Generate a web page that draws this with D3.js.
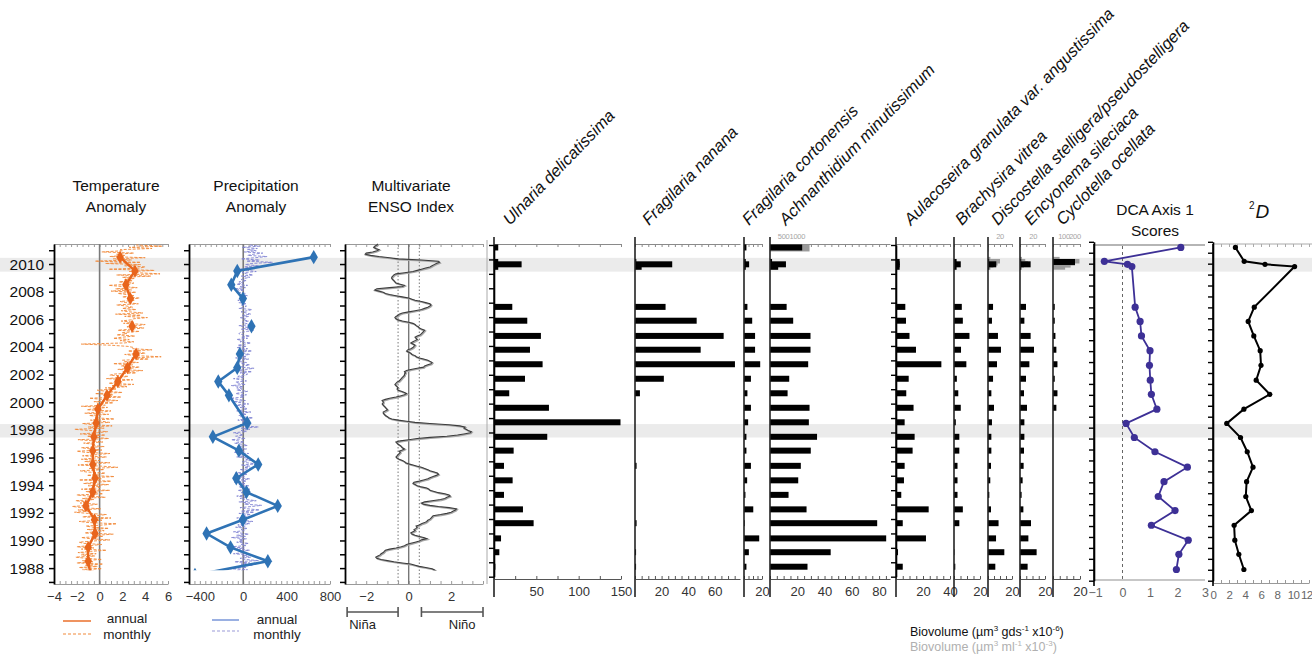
<!DOCTYPE html>
<html><head><meta charset="utf-8">
<script src="https://cdn.jsdelivr.net/npm/d3@7"></script>
<style>
body{margin:0;background:#fff}
text{font-family:"Liberation Sans",Arial,sans-serif}
</style>
</head><body>
<svg id="c" width="1312" height="655"></svg>
<script>
// ---------------- data ----------------
const yearLabels = d3.range(1988, 2011, 2);
const highlightYears = [[2009.45, 2010.45], [1997.45, 1998.42]];

// annual climate anomalies (mid-year)
const tempYears = [2010.5, 2009.5, 2008.5, 2007.5, 2006.5, 2005.5, 2004.5, 2003.5, 2002.5, 2001.5, 2000.5, 1999.5, 1998.5, 1997.5, 1996.5, 1995.5, 1994.5, 1993.5, 1992.5, 1991.5, 1990.5, 1989.5, 1988.5, 1987.5];
const tempAnnual = [1.8, 3.1, 2.3, 2.7, null, 2.85, null, 3.2, 2.45, 1.6, 0.65, -0.15, -0.3, -0.5, -0.6, -0.6, -0.4, -0.6, -1.2, -0.45, -0.4, -1.0, -1.0, -0.8];
const precipYears = [2010.5, 2009.5, 2008.5, 2007.5, 2006.5, 2005.5, 2004.5, 2003.5, 2002.5, 2001.5, 2000.5, 1998.5, 1997.5, 1996.5, 1995.5, 1994.5, 1993.5, 1992.5, 1991.5, 1990.5, 1989.5, 1988.5, 1987.5];
const precipAnnual = [650, -55, -110, -3, null, 76, null, -31, -55, -230, -132, 37, -280, -40, 138, -64, 30, 318, -3, -338, -117, 227, -445];

// monthly series, first value = October 1987
const monthlyStart = 1987.75;
const tempMonthly = [
 -0.5, -1.5, 0.2,
 -1.8, -0.2, -1.3, 0.3, -2.0, -0.6, -1.5, 0.2, -1.2, -2.1, -0.4, -1.6,
 -0.3, -1.9, -0.8, 0.6, -1.6, -0.5, -2.0, -0.9, 0.2, -1.4, -1.8, -0.6,
 0.9, -0.8, -1.6, 0.3, -0.2, 1.2, -1.3, -0.5, 0.4, -1.1, 0.8, -0.6,
 -1.2, 0.4, 1.5, -0.9, -1.8, 0.2, -0.6, 1.0, -1.5, -0.3, 0.6, -1.0,
 -2.2, -0.8, -1.9, 0.1, -1.5, -2.4, -0.9, -0.2, -1.7, -1.0, -2.1, -0.5,
 -1.5, 0.5, -0.9, -2.0, 0.3, -0.4, -1.2, 0.9, -1.6, -0.2, 0.1, -1.0,
 0.8, -1.4, -0.3, 1.0, -1.8, 0.2, -0.6, 1.3, -1.1, -0.2, 0.5, -1.2,
 -1.7, 0.4, -0.9, 1.6, 0.2, -1.9, -0.4, 0.9, -1.3, 0.0, -1.6, -0.5,
 0.6, -1.5, -0.3, 0.9, -1.2, -2.0, 0.2, -0.8, -1.6, 0.4, -0.7, -0.4,
 -1.4, 0.3, -0.6, -1.9, 0.8, -0.3, -1.1, 0.5, -1.7, -0.2, 0.7, -0.9,
 -2.2, 0.4, -1.0, 1.1, -0.6, -1.5, 0.9, 0.2, -0.8, 1.3, -0.4, 0.1,
 -0.9, 0.8, -1.3, 0.3, 1.0, -1.1, -0.4, 0.7, -1.6, 0.5, -0.2, 1.2,
 -0.5, 1.6, 0.2, -0.9, 1.9, 0.4, 1.2, -0.4, 2.0, 0.6, -0.2, 1.5,
 0.5, 2.4, 1.1, 3.0, 0.8, 2.0, 1.4, 2.9, 0.6, 1.8, 2.5, 0.9,
 1.3, 3.2, 2.0, 3.8, 1.6, 2.7, 3.5, 1.9, 2.9, 1.2, 3.4, 2.2,
 2.0, 4.3, 2.8, 5.4, 3.1, 2.2, 4.0, 3.6, 2.5, 4.6, 2.9, 3.0,
 2.5, 1.0, -1.6, 2.2, 3.0, 1.8, 2.6, 1.2, 2.0, 3.1, 1.5, 2.4,
 2.0, 3.5, 1.6, 2.8, 3.9, 2.4, 3.3, 4.0, 2.1, 3.0, 1.9, 2.7,
 3.0, 4.2, 2.2, 3.6, 1.4, 3.8, 2.6, 1.9, 3.2, 2.0, 2.9, 2.4,
 1.5, 3.4, 2.3, 1.8, 3.1, 2.7, 3.5, 2.0, 3.0, 2.4, 1.6, 3.2,
 1.0, 2.8, 1.4, 3.3, 2.0, 0.8, 2.6, 3.0, 1.7, 2.9, 2.2, 3.1,
 2.0, 4.5, 1.5, 5.3, 3.2, 2.6, 4.8, 0.8, 3.5, 4.0, 2.2, 3.6,
 0.5, 3.6, -0.4, 2.8, 1.2, 4.0, 0.9, 2.2, 1.5, 3.0, 0.2, 2.0,
 1.8, 4.6, 2.6, 5.5, 3.2
];
const precipMonthly = [
 -60, 40, -120,
 30, -40, 90, -20, 60, -80, 140, 20, -30, 70, -10, 50,
 -90, 20, -40, 60, -70, 10, -120, 30, -20, 50, -60, 0,
 -40, 30, -110, 20, -60, 50, -30, -90, 10, -20, 40, -70,
 20, -50, 60, -30, 90, -10, 40, -60, 30, -20, 70, -40,
 100, -20, 150, 40, -30, 80, 170, 10, 60, -40, 120, 30,
 -30, 40, -60, 20, 70, -20, 30, -50, 60, 0, -40, 50,
 -40, 20, -80, 30, -20, 60, -50, 10, -30, 40, -70, 20,
 40, -30, 90, 10, 60, -20, 120, 30, -10, 70, 20, 50,
 -60, 20, -30, 50, -80, 10, -40, 30, -20, -50, 40, -10,
 -80, 10, -50, -110, 20, -40, -70, 0, -30, -90, 30, -20,
 60, -20, 140, 10, -30, 80, -10, 40, -50, 20, 90, -30,
 -40, 30, -20, 70, -60, 10, 40, -30, 20, -80, 50, -10,
 -90, 20, -50, -120, 10, -30, 30, -70, -20, 40, -60, -10,
 -60, 0, -110, 20, -40, -70, 30, -20, -90, 10, -50, 20,
 40, -30, 80, -60, 20, 100, -40, 10, 60, -20, 30, -50,
 -20, 50, -70, 30, -40, 60, 10, -30, 80, -10, 40, -60,
 30, -50, 20, 70, -30, 10, -60, 40, -20, 60, 0, -40,
 -30, 40, 100, -20, 60, 10, -40, 80, 20, -10, 50, 0,
 20, -30, 50, -10, 70, 30, -20, 40, 80, -40, 10, 30,
 -20, 30, -40, 10, -50, 20, 0, -30, 40, -10, 20, -60,
 -50, 10, -80, 20, -30, 40, -60, 0, -40, 30, -20, 10,
 60, -20, 90, 30, -10, 120, 40, -30, 70, 10, 140, 20,
 80, 270, 30, 150, -20, 110, 220, 40, 90, 180, 10, 120,
 40, 130, -10, 150, 60
];
const ensoMonthly = [
 1.3, 1.2, 1.1,
 0.8, 0.5, 0.3, 0.1, -0.3, -0.7, -1.0, -1.3, -1.5, -1.55, -1.45, -1.35,
 -1.3, -1.2, -1.15, -1.1, -0.9, -0.6, -0.35, -0.2, -0.1, 0.1, 0.3, 0.5,
 0.6, 0.85, 0.7, 0.5, 0.3, 0.15, 0.1, 0.2, 0.3, 0.25, 0.35, 0.4,
 0.35, 0.5, 0.6, 0.75, 0.85, 0.9, 1.0, 1.05, 1.1, 1.15, 1.5, 1.8,
 2.0, 2.1, 2.2, 2.25, 1.9, 1.4, 1.0, 0.7, 0.6, 0.75, 1.1, 1.5,
 1.7, 1.8, 1.95, 1.9, 1.7, 1.4, 1.2, 1.0, 0.95, 0.85, 0.6, 0.4,
 0.3, 0.2, 0.25, 0.5, 0.7, 0.9, 1.0, 1.15, 1.3, 1.4, 1.35, 1.2,
 1.0, 0.9, 0.75, 0.6, 0.4, 0.2, 0.0, -0.15, -0.2, -0.3, -0.45, -0.55,
 -0.6, -0.55, -0.5, -0.45, -0.4, -0.45, -0.3, -0.2, -0.3, -0.35, -0.4, -0.5,
 -0.55, -0.6, -0.4, 0.0, 0.4, 1.0, 1.8, 2.3, 2.6, 2.9, 2.95, 2.8,
 2.7, 2.6, 2.65, 2.4, 1.9, 1.0, 0.3, -0.1, -0.5, -0.8, -0.95, -1.0,
 -1.1, -1.15, -1.2, -1.2, -1.1, -1.0, -1.05, -1.1, -1.15, -1.2, -1.25, -1.2,
 -1.2, -1.25, -1.1, -0.9, -0.6, -0.4, -0.2, -0.1, -0.2, -0.35, -0.5, -0.55,
 -0.5, -0.55, -0.6, -0.65, -0.6, -0.55, -0.45, -0.4, -0.35, -0.3, -0.25, -0.2,
 -0.2, -0.15, -0.2, -0.1, 0.1, 0.4, 0.7, 0.75, 0.9, 1.05, 1.1, 1.0,
 0.9, 0.7, 0.5, 0.35, 0.3, 0.15, 0.1, 0.0, -0.1, -0.05, 0.1, 0.2,
 0.25, 0.3, 0.2, 0.1, 0.2, 0.3, 0.4, 0.35, 0.3, 0.4, 0.55, 0.6,
 0.65, 0.7, 0.75, 0.6, 0.5, 0.45, 0.35, 0.3, 0.2, 0.0, -0.3, -0.5,
 -0.6, -0.65, -0.6, -0.5, -0.45, -0.3, 0.0, 0.3, 0.6, 0.75, 0.9, 1.0,
 1.05, 1.0, 0.8, 0.6, 0.3, 0.15, 0.0, -0.3, -0.6, -0.9, -1.1, -1.2,
 -1.4, -1.6, -1.5, -0.9, -0.3, -0.2, -0.4, -0.6, -0.65, -0.7, -0.75, -0.8,
 -0.8, -0.75, -0.7, -0.6, -0.2, 0.2, 0.4, 0.6, 0.8, 1.0, 1.1, 1.2,
 1.3, 1.45, 1.4, 0.6, -0.5, -0.9, -1.4, -1.8, -2.05, -2.0, -1.7, -1.5,
 -1.4, -1.55, -1.65, -1.6, -1.5, -1.45
];

// diatom biovolume per sediment sample (µm³ gds⁻¹ ×10⁻⁶)
const sampleYears = [2011.2, 2010.15, 2009.98, 2009.8, 2006.9, 2005.9, 2004.8, 2003.8, 2002.75, 2001.7, 2000.65, 1999.6, 1998.55, 1997.5, 1996.5, 1995.4, 1994.35, 1993.3, 1992.25, 1991.25, 1990.15, 1989.15, 1988.1];
const ulnaria      = [5, 5, 32.6, 5, 21.6, 39.3, 55.4, 42.5, 57.4, 36.6, 18, 64.9, 149.4, 62.9, 23.2, 11.8, 22, 11.8, 34.2, 46.8, 8.3, 6.3, 1.6];
const nanana       = [0, 1, 28, 5, 23, 46.4, 66.7, 49.4, 75.2, 21.7, 3.7, 0, 0, 0, 0, 1.2, 0, 0, 0, 1.2, 0, 0.8, 0.8];
const cortonensis  = [2.7, 2, 5.7, 2, 3.8, 9.1, 12.3, 12.3, 18, 7.7, 3.8, 7.7, 4.6, 2.7, 2.7, 7.7, 3.5, 1.6, 10.3, 0.8, 16.9, 5.4, 2.7];
const achnanthidium= [23.6, 1.5, 11.7, 6, 12.2, 17, 29.7, 29.7, 28, 14.1, 12.9, 29, 28.5, 34.5, 29.9, 22.6, 20.7, 13.6, 26.8, 78.6, 85.2, 44.5, 27.5];
const aulacoseira  = [0, 2.7, 2.7, 2.7, 6.9, 7.4, 10, 14.8, 33.6, 9.4, 7.6, 13, 6.4, 13.8, 12.3, 6.4, 5.9, 3.9, 24.2, 5, 22.2, 1.5, 5];
const brachysira   = [0, 2, 5.2, 2, 6, 6.8, 11.9, 5.4, 9.5, 2.2, 3.3, 5.2, 1.4, 4.1, 4.1, 2.7, 2.7, 2.7, 6.8, 4.1, 0, 0.3, 1];
const discostella  = [0, 1, 6.9, 1, 4.2, 3.3, 8.3, 10.8, 7.5, 4.2, 2.8, 5, 3.3, 2.8, 2.8, 2.5, 1.9, 1.1, 2.5, 8.8, 6.7, 13.6, 6.1];
const encyonema    = [0, 1, 8.5, 1, 4.8, 3.5, 8.5, 11.2, 7.5, 4.8, 3.2, 5.6, 3.5, 3.5, 3.2, 2.9, 2.1, 1.3, 2.7, 8.8, 6.7, 13.3, 6.1];
const cyclotella   = [0, 16.3, 0, 0, 1.3, 1.3, 1.8, 2.5, 3.3, 1.3, 3.3, 2.5, 0, 0, 0, 0, 0, 0, 0, 0, 0, 0, 0];

// water-column biovolume (µm³ ml⁻¹ ×10⁻³)
const waterYears = [2011.2, 2010.3, 2010.15, 2010.0, 2009.85, 2009.7];
const achnWater  = [1450, 0, 0, 0, 0, 0];
const discWater  = [1, 4, 20, 16, 9, 4];
const encyWater  = [0, 3, 8, 12, 6, 2];
const cycloWater = [0, 60, 240, 200, 160, 110];

// community metrics
const scoreYears = [2011.2, 2010.2, 2009.98, 2009.82, 2006.88, 2005.85, 2004.8, 2003.73, 2002.67, 2001.6, 2000.57, 1999.5, 1998.47, 1997.45, 1996.42, 1995.3, 1994.25, 1993.18, 1992.16, 1991.1, 1990.02, 1989.0, 1987.9];
const dcaScores = [2.12, -0.66, 0.18, 0.34, 0.46, 0.64, 0.69, 1.0, 0.98, 1.01, 1.05, 1.25, 0.13, 0.43, 1.18, 2.36, 1.51, 1.3, 1.91, 1.05, 2.39, 2.05, 1.96];
const hill2 = [2.8, 3.9, 6.5, 10.2, 5.16, 4.4, 5.1, 5.9, 6.0, 5.4, 7.1, 3.86, 1.72, 3.44, 4.28, 5.0, 4.2, 4.1, 4.8, 2.64, 2.73, 3.23, 3.86];

const taxa = ["Ulnaria delicatissima", "Fragilaria nanana", "Fragilaria cortonensis", "Achnanthidium minutissimum",
  "Aulacoseira granulata var. angustissima", "Brachysira vitrea", "Discostella stelligera/pseudostelligera",
  "Encyonema sileciaca", "Cyclotella ocellata"];

// ---------------- drawing ----------------
const svg = d3.select("#c");
const y = d3.scaleLinear().domain([1986.85, 2011.45]).range([584, 244]);
const GRAY_AX = "#9a9a9a";

// highlighted years
svg.append("g").selectAll("rect").data(highlightYears).join("rect")
  .attr("x", 0).attr("width", 1312)
  .attr("y", d => y(d[1])).attr("height", d => y(d[0]) - y(d[1]))
  .attr("fill", "#ebebeb");

function vline(x, y1, y2, color, w, dash) {
  const l = svg.append("line").attr("x1", x).attr("x2", x).attr("y1", y1).attr("y2", y2)
    .attr("stroke", color).attr("stroke-width", w);
  if (dash) l.attr("stroke-dasharray", dash);
  return l;
}
function styleAxis(g, color, fs) {
  g.select(".domain").attr("stroke", color);
  g.selectAll(".tick line").attr("stroke", color);
  g.selectAll(".tick text").attr("fill", "#333").style("font-size", fs + "px")
    .style("font-family", '"Liberation Sans",Arial,sans-serif');
  return g;
}
function topAxis(x, y0, step, color) {
  const [a, b] = x.domain();
  const g = svg.append("g").attr("transform", `translate(0,${y0})`)
    .call(d3.axisTop(x).tickValues(d3.range(a, b + 1e-9, step)).tickSize(-3).tickSizeOuter(0).tickFormat(""));
  return styleAxis(g, color || GRAY_AX, 12);
}
function bottomAxis(x, y0, step, labels, color) {
  const [a, b] = x.domain();
  const g = svg.append("g").attr("transform", `translate(0,${y0})`)
    .call(d3.axisBottom(x).tickValues(d3.range(a, b + 1e-9, step)).tickSize(-3).tickSizeOuter(0).tickFormat(""));
  styleAxis(g, color || GRAY_AX, 12);
  const gl = svg.append("g").attr("transform", `translate(0,${y0})`)
    .call(d3.axisBottom(x).tickValues(labels).tickSize(0).tickPadding(8).tickFormat(d3.format("d")));
  gl.select(".domain").remove();
  styleAxis(gl, color || GRAY_AX, 13);
  return g;
}
function yearAxis(x0, withLabels) {
  const g = svg.append("g").attr("transform", `translate(${x0},0)`)
    .call(d3.axisLeft(y).tickValues(d3.range(1987, 2012)).tickSize(5).tickSizeOuter(0)
      .tickFormat(d => (withLabels && d % 2 === 0) ? d : ""));
  g.select(".domain").attr("stroke", "#000").attr("stroke-width", 1.8);
  g.selectAll(".tick line").attr("stroke", "#000").attr("stroke-width", 1.5);
  g.selectAll(".tick text").attr("fill", "#111").style("font-size", "15.5px").attr("dx", "-2")
    .style("font-family", '"Liberation Sans",Arial,sans-serif');
  return g;
}
function depthAxis(x0, range, n) {
  const d = d3.scaleLinear().domain([0, n]).range(range);
  const g = svg.append("g").attr("transform", `translate(${x0},0)`)
    .call(d3.axisLeft(d).tickValues(d3.range(0, n + 1)).tickSize(5).tickSizeOuter(0).tickFormat(""));
  g.select(".domain").attr("stroke", "#000").attr("stroke-width", 1.6);
  g.selectAll(".tick line").attr("stroke", "#000").attr("stroke-width", 1.4);
}
function title(lines, cx, y0) {
  lines.forEach((t, i) => svg.append("text").attr("x", cx).attr("y", y0 + i * 21)
    .attr("text-anchor", "middle").style("font-size", "15.5px").attr("fill", "#111").text(t));
}

// clip for the climate records (record starts late 1987)
svg.append("clipPath").attr("id", "clim").append("rect")
  .attr("x", 0).attr("y", 236).attr("width", 1312).attr("height", y(1987.85) - 236);

const monthDate = i => monthlyStart + (i + 0.5) / 12;

// ---- Temperature anomaly ----
const xT = d3.scaleLinear().domain([-4, 6]).range([54, 168]);
topAxis(xT, 244, 0.5);
bottomAxis(xT, 584, 0.5, [-4, -2, 0, 2, 4, 6]);
vline(xT(0), 244, 584, "#7a7a7a", 1.6);
yearAxis(54, true);
title(["Temperature", "Anomaly"], 116, 191);
const tempC = "#e8651c", tempM = "#f28a3a";
svg.append("path").datum(tempMonthly).attr("clip-path", "url(#clim)")
  .attr("d", d3.line().x(d => xT(d)).y((d, i) => y(monthDate(i))))
  .attr("fill", "none").attr("stroke", tempM).attr("stroke-width", 1).attr("stroke-dasharray", "3,1.5").attr("opacity", 0.9);
const tempPts = tempYears.map((t, i) => ({ t, v: tempAnnual[i] }));
svg.append("path").datum(tempPts).attr("clip-path", "url(#clim)")
  .attr("d", d3.line().defined(d => d.v !== null).x(d => xT(d.v)).y(d => y(d.t)))
  .attr("fill", "none").attr("stroke", tempC).attr("stroke-width", 2.4);
svg.append("g").attr("clip-path", "url(#clim)").selectAll("path").data(tempPts.filter(d => d.v !== null)).join("path")
  .attr("transform", d => `translate(${xT(d.v)},${y(d.t)})`)
  .attr("d", d3.symbol(d3.symbolDiamond, 48)).attr("fill", tempC);

// ---- Precipitation anomaly ----
const xP = d3.scaleLinear().domain([-500, 800]).range([189, 330]);
topAxis(xP, 244, 50);
bottomAxis(xP, 584, 50, [-400, 0, 400, 800]);
vline(xP(0), 244, 584, "#7a7a7a", 1.6);
yearAxis(189, false);
title(["Precipitation", "Anomaly"], 256, 191);
const precC = "#2f73b5", precM = "#7f82d2";
svg.append("path").datum(precipMonthly).attr("clip-path", "url(#clim)")
  .attr("d", d3.line().x(d => xP(d)).y((d, i) => y(monthDate(i))))
  .attr("fill", "none").attr("stroke", precM).attr("stroke-width", 0.9).attr("stroke-dasharray", "3,1.5");
const precPts = precipYears.map((t, i) => ({ t, v: precipAnnual[i] }));
svg.append("path").datum(precPts).attr("clip-path", "url(#clim)")
  .attr("d", d3.line().defined(d => d.v !== null).x(d => xP(d.v)).y(d => y(d.t)))
  .attr("fill", "none").attr("stroke", precC).attr("stroke-width", 2.6);
svg.append("g").attr("clip-path", "url(#clim)").selectAll("path").data(precPts.filter(d => d.v !== null)).join("path")
  .attr("transform", d => `translate(${xP(d.v)},${y(d.t)})`)
  .attr("d", d3.symbol(d3.symbolDiamond, 60)).attr("fill", precC);

// ---- Multivariate ENSO Index ----
const xE = d3.scaleLinear().domain([-3, 3.5]).range([345, 483]);
topAxis(xE, 244, 0.5);
bottomAxis(xE, 584, 0.5, [-2, 0, 2]);
vline(xE(0), 244, 584, "#777", 1.4);
vline(xE(-0.5), 244, 584, "#777", 1, "1.5,2");
vline(xE(0.5), 244, 584, "#777", 1, "1.5,2");
vline(487, 240, 584, "#aaa", 1);
yearAxis(345, false);
title(["Multivariate", "ENSO Index"], 411, 191);
const ensoLine = d3.line().x(d => xE(d)).y((d, i) => y(monthDate(i)));
svg.append("path").datum(ensoMonthly).attr("clip-path", "url(#clim)").attr("d", ensoLine)
  .attr("transform", "translate(0.8,0.8)")
  .attr("fill", "none").attr("stroke", "#a8a8a8").attr("stroke-width", 1.6);
svg.append("path").datum(ensoMonthly).attr("clip-path", "url(#clim)").attr("d", ensoLine)
  .attr("fill", "none").attr("stroke", "#3c3c3c").attr("stroke-width", 1.1);

// Niña / Niño brackets
[[-2.9, -0.5, "Niña", -10], [0.6, 3.5, "Niño", 10]].forEach(([a, b, t, off]) => {
  const g = svg.append("g").attr("stroke", "#555").attr("stroke-width", 1.6);
  g.append("line").attr("x1", xE(a)).attr("x2", xE(b)).attr("y1", 612).attr("y2", 612);
  g.append("line").attr("x1", xE(a)).attr("x2", xE(a)).attr("y1", 607).attr("y2", 617);
  g.append("line").attr("x1", xE(b)).attr("x2", xE(b)).attr("y1", 607).attr("y2", 617);
  svg.append("text").attr("x", (xE(a) + xE(b)) / 2 + off).attr("y", 629)
    .attr("text-anchor", "middle").style("font-size", "13px").attr("fill", "#222").text(t);
});

// ---- diatom biovolume panels ----
const BAR_H = 6;
const panels = [
  { vals: ulnaria, dom: [0, 150], r: [494, 621], step: 25, labels: [50, 100, 150] },
  { vals: nanana, dom: [0, 79], r: [635, 740], step: 5, labels: [20, 40, 60] },
  { vals: cortonensis, dom: [0, 20], r: [744, 762], step: 5, labels: [20] },
  { vals: achnanthidium, dom: [0, 88], r: [770, 890], step: 5, labels: [20, 40, 60, 80],
    water: achnWater, wdom: [0, 4400], wlabels: [500, 1000] },
  { vals: aulacoseira, dom: [0, 40], r: [896, 950], step: 5, labels: [20, 40] },
  { vals: brachysira, dom: [0, 20], r: [954, 980], step: 5, labels: [20] },
  { vals: discostella, dom: [0, 20], r: [988, 1012], step: 5, labels: [20],
    water: discWater, wdom: [0, 40], wlabels: [20] },
  { vals: encyonema, dom: [0, 20], r: [1020, 1045], step: 5, labels: [20],
    water: encyWater, wdom: [0, 38], wlabels: [20] },
  { vals: cyclotella, dom: [0, 20], r: [1053, 1080], step: 5, labels: [20],
    water: cycloWater, wdom: [0, 245], wlabels: [100, 200] }
];
const labelStart = [510, 649, 749, 786, 911, 962, 998, 1031, 1063];

panels.forEach((p, k) => {
  const x = d3.scaleLinear().domain(p.dom).range(p.r);
  topAxis(x, 244, p.step, "#8a8a8a");
  bottomAxis(x, 579, p.step, p.labels, "#555");
  if (p.water) {
    const xw = d3.scaleLinear().domain(p.wdom).range(p.r);
    svg.append("g").selectAll("rect").data(p.water.map((v, i) => ({ v, t: waterYears[i] })).filter(d => d.v > 0))
      .join("rect").attr("x", xw(0)).attr("width", d => xw(d.v) - xw(0))
      .attr("y", d => y(d.t) - 3).attr("height", d => d.t > 2011 ? 7 : 4.5)
      .attr("fill", "#9b9b9b");
    svg.append("g").selectAll("text").data(p.wlabels).join("text")
      .attr("x", d => xw(d)).attr("y", 239).attr("text-anchor", "middle")
      .style("font-size", "7.5px").style("letter-spacing", "-0.3px").attr("fill", "#a5a5a5").text(d => d);
  }
  svg.append("g").selectAll("rect").data(p.vals.map((v, i) => ({ v, t: sampleYears[i] })).filter(d => d.v > 0))
    .join("rect").attr("x", x(0)).attr("width", d => x(d.v) - x(0))
    .attr("y", d => y(d.t) - BAR_H / 2).attr("height", BAR_H).attr("fill", "#000");
  vline(x(0), 237, 597, "#222", 1.6);
  svg.append("text").attr("transform", `translate(${labelStart[k]},226) rotate(-46)`)
    .style("font-size", "16.6px").style("font-style", "italic").attr("fill", "#111").text(taxa[k]);
});
depthAxis(494, [245, 576.7], 23);
depthAxis(896, [245, 576.7], 23);

// ---- DCA axis 1 scores ----
const xD = d3.scaleLinear().domain([-1, 3]).range([1095, 1205]);
svg.append("line").attr("x1", 1094).attr("x2", 1205).attr("y1", 245).attr("y2", 245).attr("stroke", "#b5b5b5").attr("stroke-width", 2.2);
svg.append("line").attr("x1", 1094).attr("x2", 1205).attr("y1", 580).attr("y2", 580).attr("stroke", "#b5b5b5").attr("stroke-width", 1.6);
const gD = svg.append("g").attr("transform", "translate(0,580)")
  .call(d3.axisBottom(xD).ticks(4).tickSize(0).tickPadding(8).tickFormat(d3.format("d")));
gD.select(".domain").remove(); styleAxis(gD, "#777", 12.5);
gD.selectAll(".tick text").attr("fill", "#666");
vline(xD(0), 246, 580, "#666", 1, "3,3");
depthAxis(1094, [241.8, 580.7], 31);
vline(1094, 244, 586, "#000", 1.6);
title(["DCA Axis 1", "Scores"], 1155, 215);
const dcaC = "#3d3096";
const dcaPts = scoreYears.map((t, i) => ({ t, v: dcaScores[i] }));
svg.append("path").datum(dcaPts).attr("d", d3.line().x(d => xD(d.v)).y(d => y(d.t)))
  .attr("fill", "none").attr("stroke", dcaC).attr("stroke-width", 1.8);
svg.append("g").selectAll("circle").data(dcaPts).join("circle")
  .attr("cx", d => xD(d.v)).attr("cy", d => y(d.t)).attr("r", 3.6).attr("fill", dcaC);

// ---- Hill's N2 diversity ----
const x2 = d3.scaleLinear().domain([0, 12]).range([1213, 1309]);
svg.append("g").attr("transform", "translate(0,244)")
  .call(d3.axisTop(x2).tickValues(d3.range(0, 12.5, 1)).tickSize(-3).tickSizeOuter(0).tickFormat(""))
  .call(g => { styleAxis(g, "#aaa", 12); g.select(".domain").attr("d", "M1213,0H1312"); });
const g2 = svg.append("g").attr("transform", "translate(0,583)")
  .call(d3.axisBottom(x2).tickValues(d3.range(0, 12.5, 1)).tickSize(-3).tickSizeOuter(0).tickFormat(""));
styleAxis(g2, "#999", 12);
const g2l = svg.append("g").attr("transform", "translate(0,583)")
  .call(d3.axisBottom(x2).tickValues(d3.range(0, 13, 2)).tickSize(0).tickPadding(8).tickFormat(d3.format("d")));
g2l.select(".domain").remove(); styleAxis(g2l, "#999", 11.5);
g2l.selectAll(".tick text").attr("fill", "#666").style("letter-spacing", "-0.6px")
  .filter(d => d === 12).attr("text-anchor", "end").attr("dx", 3);
depthAxis(1213, [241.8, 580.7], 31);
vline(1213, 244, 586, "#000", 1.6);
const t2 = svg.append("text").attr("x", 1249).attr("y", 218).attr("fill", "#111");
t2.append("tspan").attr("dy", -9).style("font-size", "10px").text("2");
t2.append("tspan").attr("dy", 9).attr("dx", 1).style("font-size", "19px").style("font-style", "italic").text("D");
const hPts = scoreYears.map((t, i) => ({ t, v: hill2[i] }));
svg.append("path").datum(hPts).attr("d", d3.line().x(d => x2(d.v)).y(d => y(d.t)))
  .attr("fill", "none").attr("stroke", "#000").attr("stroke-width", 2);
svg.append("g").selectAll("circle").data(hPts).join("circle")
  .attr("cx", d => x2(d.v)).attr("cy", d => y(d.t)).attr("r", 2.6).attr("fill", "#000");

// ---- legends ----
function legendRow(x1, x2, ly, color, dash, w, label, tx, ty) {
  const l = svg.append("line").attr("x1", x1).attr("x2", x2).attr("y1", ly).attr("y2", ly)
    .attr("stroke", color).attr("stroke-width", w);
  if (dash) l.attr("stroke-dasharray", dash);
  svg.append("text").attr("x", tx).attr("y", ty).attr("text-anchor", "middle")
    .style("font-size", "13.5px").attr("fill", "#222").text(label);
}
legendRow(63, 91, 621, tempC, null, 1.4, "annual", 127, 623);
legendRow(63, 91, 634, tempM, "3,2", 1.2, "monthly", 127, 639);
legendRow(212, 239, 620, "#6f8fd6", null, 1.4, "annual", 277, 624);
legendRow(212, 239, 631, "#9a9ad8", "3,2", 1.2, "monthly", 277, 639);

function bioLabel(yy, color, unit, exp) {
  const t = svg.append("text").attr("x", 910).attr("y", yy).style("font-size", "12.5px").attr("fill", color);
  t.append("tspan").text("Biovolume (µm");
  t.append("tspan").attr("dy", -5).style("font-size", "8px").text("3");
  t.append("tspan").attr("dy", 5).text("  " + unit);
  t.append("tspan").attr("dy", -5).style("font-size", "8px").text("-1");
  t.append("tspan").attr("dy", 5).text(" x10");
  t.append("tspan").attr("dy", -5).style("font-size", "8px").text(exp);
  t.append("tspan").attr("dy", 5).text(")");
}
bioLabel(636, "#111", "gds", "-6");
bioLabel(651, "#b0b0b0", "ml", "-3");
</script>
</body></html>
